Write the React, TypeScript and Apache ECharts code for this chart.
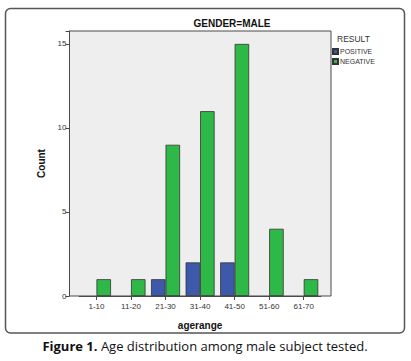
import React, { useEffect, useRef } from "react";
import * as echarts from "echarts";

const categories = ["1-10", "11-20", "21-30", "31-40", "41-50", "51-60", "61-70"];
const positiveValues = [0, 0, 1, 2, 2, 0, 0];
const negativeValues = [1, 1, 9, 11, 15, 4, 1];
const seriesNames = ["POSITIVE", "NEGATIVE"];
const yTicks = [0, 5, 10, 15];

const hideZero = (arr: number[]) => arr.map((v) => (v === 0 ? "-" : v));

export default function App() {
  const ref = useRef<HTMLDivElement>(null);
  useEffect(() => {
    if (!ref.current) return;
    const chart = echarts.init(ref.current, undefined, { renderer: "svg" });
    const yMax = 15.77;
    const font = "Arial, 'Liberation Sans', sans-serif";
    chart.setOption({
      animation: false,
      backgroundColor: "#ffffff",
      textStyle: { fontFamily: font },
      graphic: [
        {
          type: "rect",
          z: -10,
          shape: { x: 5.5, y: 8.5, width: 399, height: 324.5, r: 5 },
          style: { fill: "#ffffff", stroke: "#555555", lineWidth: 1.5 },
        },
        {
          type: "text",
          x: 232,
          y: 23,
          style: {
            text: "GENDER=MALE",
            font: `bold 10px ${font}`,
            fill: "#111",
            align: "center",
            verticalAlign: "middle",
          },
        },
        {
          type: "text",
          x: 337,
          y: 39,
          style: {
            text: "RESULT",
            font: `8.5px ${font}`,
            fill: "#333",
            align: "left",
            verticalAlign: "middle",
          },
        },
        {
          type: "text",
          x: 205,
          y: 346,
          style: {
            text: "{b|Figure 1.} Age distribution among male subject tested.",
            font: `13px 'Open Sans', sans-serif`,
            fill: "#111",
            align: "center",
            verticalAlign: "middle",
            rich: {
              b: { fontWeight: "bold", fontSize: 13, fontFamily: "'Open Sans', sans-serif", fill: "#111" },
            },
          },
        },
      ],
      legend: {
        orient: "vertical",
        left: 332,
        top: 48,
        itemWidth: 5,
        itemHeight: 5,
        itemGap: 3,
        icon: "rect",
        data: seriesNames,
        textStyle: { fontSize: 7, color: "#333", padding: [0, 0, 0, -3] },
        padding: 0,
      },
      grid: [
        {
          left: 69.5,
          top: 31,
          width: 261.5,
          height: 265,
          show: true,
          backgroundColor: "#eeeeee",
          borderColor: "#4a4a4a",
          borderWidth: 1,
        },
        {
          left: 79.2,
          top: 31,
          width: 241.8,
          height: 265,
        },
      ],
      xAxis: [
        { type: "value", gridIndex: 0, show: false, min: 0, max: 1 },
        {
          type: "category",
          gridIndex: 1,
          data: categories,
          axisLine: { show: true, lineStyle: { color: "#4a4a4a" } },
          axisTick: { show: true, alignWithLabel: true, length: 4, lineStyle: { color: "#4a4a4a" } },
          axisLabel: { fontSize: 8, color: "#333", margin: 6 },
          name: "agerange",
          nameLocation: "middle",
          nameGap: 24,
          nameTextStyle: { fontSize: 10, fontWeight: "bold", color: "#111" },
        },
      ],
      yAxis: [
        {
          type: "value",
          gridIndex: 0,
          min: 0,
          max: yMax,
          interval: 5,
          axisLine: { show: true, lineStyle: { color: "#4a4a4a" } },
          axisTick: { show: true, length: 4, lineStyle: { color: "#4a4a4a" } },
          axisLabel: {
            fontSize: 8,
            color: "#333",
            margin: 3,
            formatter: (v: number) => (yTicks.includes(v) ? String(v) : ""),
          },
          splitLine: { show: false },
          name: "Count",
          nameLocation: "middle",
          nameGap: 21,
          nameTextStyle: { fontSize: 10, fontWeight: "bold", color: "#111" },
        },
        { type: "value", gridIndex: 1, min: 0, max: yMax, show: false, splitLine: { show: false } },
      ],
      series: [
        {
          name: seriesNames[0],
          type: "bar",
          xAxisIndex: 1,
          yAxisIndex: 1,
          data: hideZero(positiveValues),
          barWidth: 14.5,
          barGap: "0%",
          itemStyle: { color: "#3e58ac", borderColor: "#333", borderWidth: 0.8 },
        },
        {
          name: seriesNames[1],
          type: "bar",
          xAxisIndex: 1,
          yAxisIndex: 1,
          data: hideZero(negativeValues),
          barWidth: 14.5,
          barGap: "0%",
          itemStyle: { color: "#2eb848", borderColor: "#333", borderWidth: 0.8 },
        },
      ],
    });
    return () => chart.dispose();
  }, []);
  return (
    <div
      ref={ref}
      style={{ position: "fixed", left: 0, top: 0, width: 411, height: 361 }}
    />
  );
}
